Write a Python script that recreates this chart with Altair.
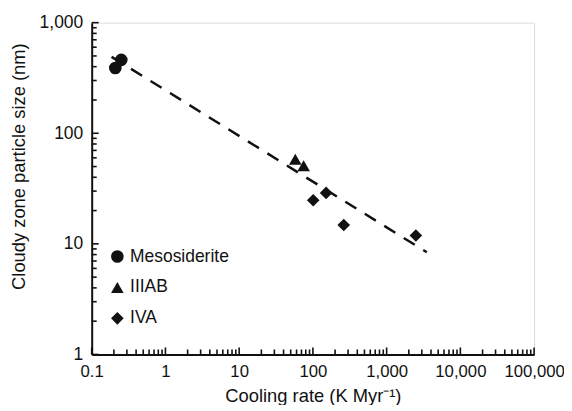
import altair as alt
import pandas as pd

# ---- data ----
meso_rate = [0.209, 0.252]
meso_size = [389, 461]
iiiab_rate = [57.7, 74.9]
iiiab_size = [58.3, 50.8]
iva_rate = [101, 151, 262, 2490]
iva_size = [24.8, 28.9, 14.8, 11.9]
fit_rate = [0.186, 3505]
fit_size = [491, 8.4]

groups = ["Mesosiderite", "IIIAB", "IVA"]
shapes = ["circle", "triangle-up", "diamond"]

x_major = [0.1, 1, 10, 100, 1000, 10000, 100000]
y_major = [1, 10, 100, 1000]
x_minor = [k * d for d in x_major[:-1] for k in range(2, 10)]
y_minor = [k * d for d in y_major[:-1] for k in range(2, 10)]

INK = "#111111"
FONT = "Liberation Sans"
W, H = 444, 333
MAJOR_LEN, MINOR_LEN = 7, 5

pts_df = pd.DataFrame({
    "group": ["Mesosiderite"] * len(meso_rate) + ["IIIAB"] * len(iiiab_rate) + ["IVA"] * len(iva_rate),
    "rate": meso_rate + iiiab_rate + iva_rate,
    "size": meso_size + iiiab_size + iva_size,
})
fit_df = pd.DataFrame({"rate": fit_rate, "size": fit_size})

xs = alt.Scale(type="log", domain=[0.1, 100000], nice=False)
ys = alt.Scale(type="log", domain=[1, 1000], nice=False)

line = alt.Chart(fit_df).mark_line(color=INK, strokeWidth=2.5, strokeDash=[13, 10]).encode(
    x=alt.X("rate:Q", scale=xs, axis=alt.Axis(
        orient="bottom", values=x_major, format=",", ticks=False, grid=False,
        domainColor=INK, domainWidth=2, labelFontSize=16.8, labelPadding=9,
        labelColor=INK, labelOverlap=False, labelFlush=False,
        title="Cooling rate (K Myr⁻¹)", titleFontSize=18.4, titleFontWeight="normal",
        titleColor=INK, titlePadding=6)),
    y=alt.Y("size:Q", scale=ys, axis=alt.Axis(
        orient="left", values=y_major, format=",", ticks=False, grid=False,
        domainColor=INK, domainWidth=2, labelFontSize=17.5, labelPadding=9,
        labelColor=INK, labelOverlap=False, labelFlush=False,
        title="Cloudy zone particle size (nm)", titleFontSize=18.4, titleFontWeight="normal",
        titleColor=INK, titlePadding=11, titleY=144)),
)

pts = alt.Chart(pts_df).mark_point(filled=True, opacity=1, size=160, color=INK).encode(
    x=alt.X("rate:Q", scale=xs, axis=None),
    y=alt.Y("size:Q", scale=ys, axis=None),
    shape=alt.Shape("group:N", scale=alt.Scale(domain=groups, range=shapes),
                    legend=alt.Legend(orient="none", legendX=17, legendY=226, title=None,
                                      padding=0, labelFontSize=17.5, labelColor=INK,
                                      labelFont=FONT, symbolSize=160, symbolFillColor=INK,
                                      symbolStrokeColor=INK, symbolStrokeWidth=0,
                                      rowPadding=12, labelOffset=4)),
)

# inside-pointing axis ticks at the tick values (positions through the scales)
xt_major = pd.DataFrame({"v": x_major})
xt_minor = pd.DataFrame({"v": x_minor})
yt_major = pd.DataFrame({"v": y_major})
yt_minor = pd.DataFrame({"v": y_minor})


def xticks(df, length):
    return alt.Chart(df).mark_rule(strokeWidth=1.6, color=INK, opacity=1).encode(
        x=alt.X("v:Q", scale=xs, axis=None),
        y=alt.value(H),
        y2=alt.value(H - length),
    )


def yticks(df, length):
    return alt.Chart(df).mark_rule(strokeWidth=1.6, color=INK, opacity=1).encode(
        y=alt.Y("v:Q", scale=ys, axis=None),
        x=alt.value(0),
        x2=alt.value(length),
    )


chart = alt.layer(
    line, pts,
    xticks(xt_major, MAJOR_LEN), xticks(xt_minor, MINOR_LEN),
    yticks(yt_major, MAJOR_LEN), yticks(yt_minor, MINOR_LEN),
).resolve_axis(x="independent", y="independent").properties(
    width=W, height=H, autosize="none",
    padding={"left": 84, "top": 14, "right": 30, "bottom": 50},
).configure_view(stroke=INK, strokeWidth=1.7).configure_axis(
    labelFont=FONT, titleFont=FONT
).configure(background="white")

chart.save("out.html", embed_options={"renderer": "svg", "actions": False})
